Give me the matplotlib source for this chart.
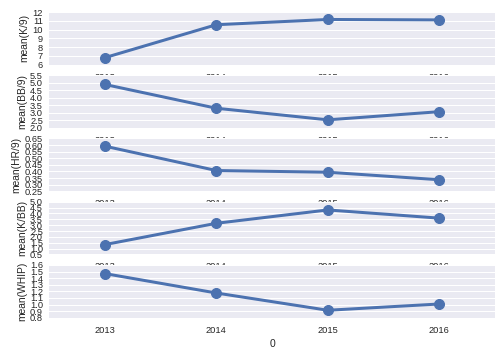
import matplotlib
matplotlib.use("Agg")
import matplotlib.pyplot as plt
import numpy as np

years = ["2013", "2014", "2015", "2016"]
k9 = [6.8, 10.55, 11.15, 11.1]
bb9 = [4.89, 3.31, 2.54, 3.08]
hr9 = [0.592, 0.407, 0.394, 0.337]
kbb = [1.34, 3.16, 4.30, 3.60]
whip = [1.47, 1.175, 0.913, 1.008]

ylabels = ["mean(K/9)", "mean(BB/9)", "mean(HR/9)", "mean(K/BB)", "mean(WHIP)"]
series = [k9, bb9, hr9, kbb, whip]
yticks = [
    np.arange(6, 12.01, 1),
    np.arange(2.0, 5.51, 0.5),
    np.arange(0.25, 0.651, 0.05),
    np.arange(0.5, 5.01, 0.5),
    np.arange(0.8, 1.601, 0.1),
]
yfmt = ["{:.0f}", "{:.1f}", "{:.2f}", "{:.1f}", "{:.1f}"]
xlabel = "0"

plt.rcParams["font.family"] = ["Liberation Sans", "DejaVu Sans"]
color = "#4C72B0"

fig, axes = plt.subplots(5, 1, figsize=(502 / 72, 356 / 72), dpi=72)
fig.subplots_adjust(left=49 / 502, right=495 / 502, top=1 - 12 / 356,
                    bottom=1 - 317.7 / 356, hspace=0.2)

x = np.arange(len(years))
for ax, vals, lab, ticks, fmt in zip(axes, series, ylabels, yticks, yfmt):
    ax.set_facecolor("#EAEAF2")
    for s in ax.spines.values():
        s.set_visible(False)
    ax.plot(x, vals, color=color, lw=3, marker="o", ms=10, zorder=3)
    ax.set_xlim(-0.5, 3.5)
    ax.set_ylim(ticks[0], ticks[-1])
    ax.set_yticks(ticks)
    ax.set_yticklabels([fmt.format(t) for t in ticks])
    ax.set_xticks(x)
    ax.set_xticklabels(years)
    ax.tick_params(axis="both", length=0, labelsize=9.3, colors="#262626")
    ax.tick_params(axis="x", pad=8)
    ax.tick_params(axis="y", pad=6)
    ax.yaxis.grid(True, color="white", lw=1)
    ax.xaxis.grid(False)
    ax.set_axisbelow(True)
    ax.set_ylabel(lab, fontsize=10.2, color="#262626", labelpad=3)

axes[-1].set_xlabel(xlabel, fontsize=10.2, color="#262626", labelpad=4)

fig.savefig("out.png", dpi=72)
